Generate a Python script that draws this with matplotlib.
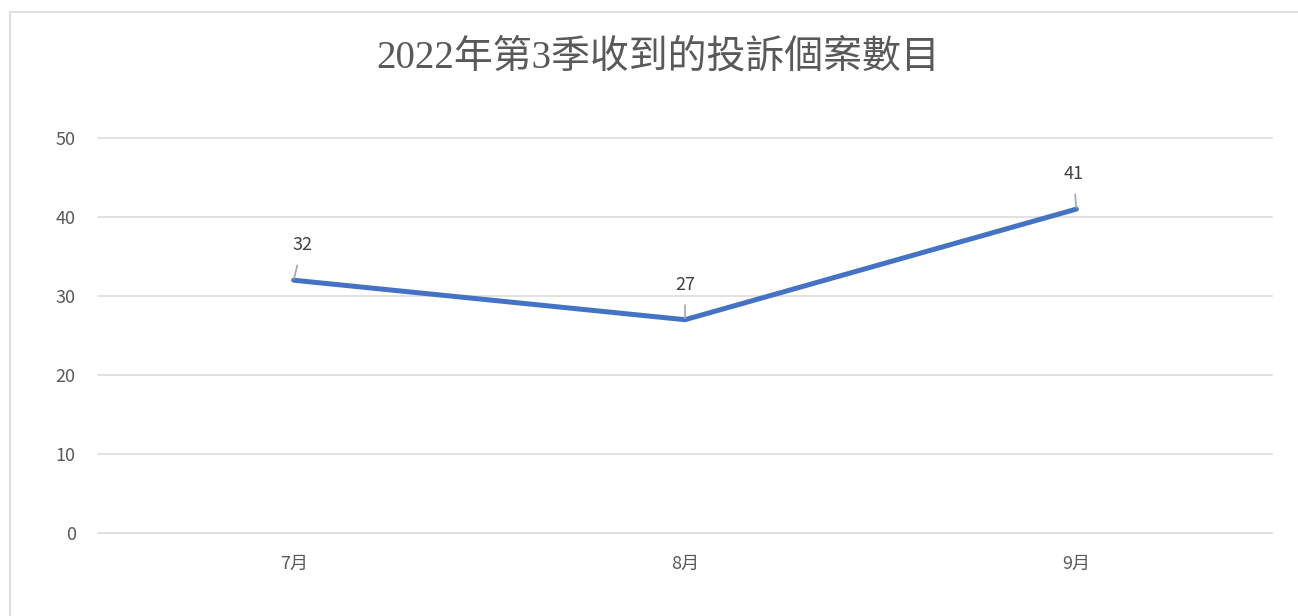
import matplotlib
matplotlib.use('Agg')
import matplotlib.pyplot as plt
from matplotlib.patches import Rectangle

months = ['7月', '8月', '9月']
complaints = [32, 27, 41]
label_dx = [6, 0, -2]  # horizontal nudge of the data labels (points)
y_ticks = [0, 10, 20, 30, 40, 50]
title = '2022年第3季收到的投訴個案數目'

plt.rcParams['font.family'] = ['Noto Sans CJK TC', 'DejaVu Sans']

fig = plt.figure(figsize=(12.98, 6.16), dpi=100)
ax = fig.add_axes([0.0755, 0.1347, 0.9045, 0.6413])

x = list(range(len(months)))
ax.plot(x, complaints, color='#4472C4', linewidth=3.6, solid_capstyle='round',
        solid_joinstyle='miter', zorder=3)

for xi, v, dx in zip(x, complaints, label_dx):
    ax.annotate(str(v), xy=(xi, v), xytext=(dx, 25), textcoords='offset points',
                ha='center', va='center', fontsize=13, color='#404040',
                arrowprops=dict(arrowstyle='-', color='#A6A6A6', lw=1.2,
                                shrinkA=6, shrinkB=1))

ax.set_xlim(-0.5, 2.5)
ax.set_ylim(0, 50)
ax.set_xticks(x)
ax.set_xticklabels(months)
ax.set_yticks(y_ticks)
ax.tick_params(axis='both', length=0, labelsize=13, colors='#595959')
ax.tick_params(axis='x', pad=16)
ax.tick_params(axis='y', pad=16)
ax.grid(axis='y', color='#D9D9D9', linewidth=1.1)
for gl in ax.get_ygridlines():
    gl.set_clip_on(False)
ax.set_axisbelow(True)
for s in ax.spines.values():
    s.set_visible(False)

fig.text(0.507, 0.905, title, ha='center', va='center', fontsize=28,
         color='#595959', family=['Liberation Serif', 'Noto Sans CJK TC'])

# outer chart frame (cropped on right and bottom)
fig.patches.append(Rectangle((10 / 1298, -0.1), 1.2, 1.1 - 12 / 616,
                             transform=fig.transFigure, fill=False,
                             edgecolor='#D9D9D9', linewidth=1.2))

fig.savefig('out.png', dpi=100)
